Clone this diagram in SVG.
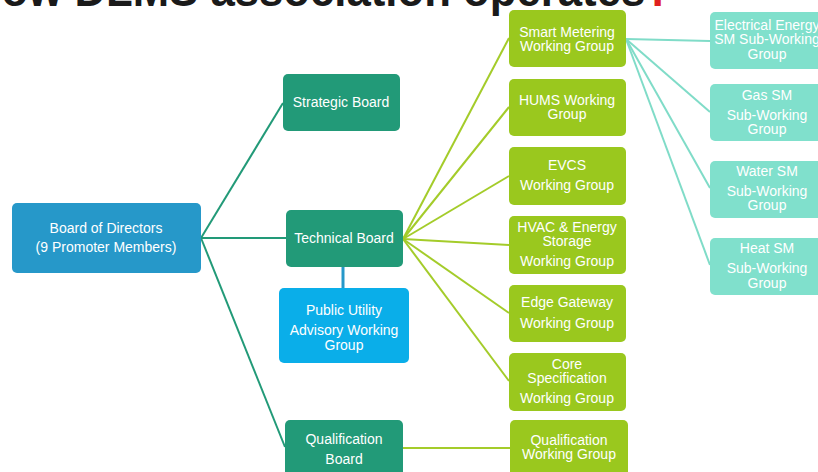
<svg xmlns="http://www.w3.org/2000/svg" width="818" height="472" viewBox="0 0 818 472">
<style>
text{font-family:"Liberation Sans",Arial,sans-serif;font-size:14px;fill:#ffffff;text-anchor:middle}
.title{font-size:46px;font-weight:bold;fill:#1a1a1a;text-anchor:start}
.bod{fill:#2698c9}
.board{fill:#229a78}
.pu{fill:#0aaee9}
.wg{fill:#9ac81e}
.swg{fill:#80e0cc}
.c1{stroke:#229a78;stroke-width:2;fill:none}
.c2{stroke:#a4cc2a;stroke-width:2;fill:none}
.c3{stroke:#80dcc8;stroke-width:2;fill:none}
.c4{stroke:#2698c9;stroke-width:3;fill:none}
</style>
<rect width="818" height="472" fill="#ffffff"/>
<text class="title" x="-30" y="6" textLength="702" lengthAdjust="spacingAndGlyphs">How DLMS association operates<tspan fill="#e02020">?</tspan></text>
<g id="connectors">
<line class="c1" x1="201" y1="238" x2="283" y2="103"/>
<line class="c1" x1="201" y1="238" x2="286" y2="238"/>
<line class="c1" x1="201" y1="238" x2="285" y2="447"/>
<line class="c4" x1="343" y1="252" x2="343" y2="289"/>
<line class="c2" x1="403" y1="239" x2="509" y2="38"/>
<line class="c2" x1="403" y1="239" x2="509" y2="107"/>
<line class="c2" x1="403" y1="239" x2="509" y2="176"/>
<line class="c2" x1="403" y1="239" x2="509" y2="245"/>
<line class="c2" x1="403" y1="239" x2="509" y2="313"/>
<line class="c2" x1="403" y1="239" x2="509" y2="381"/>
<line class="c2" x1="403" y1="448" x2="510" y2="448"/>
<line class="c3" x1="626" y1="39" x2="710" y2="41"/>
<line class="c3" x1="626" y1="39" x2="710" y2="112"/>
<line class="c3" x1="626" y1="39" x2="710" y2="188"/>
<line class="c3" x1="626" y1="39" x2="710" y2="265"/>
</g>
<g id="board-of-directors">
<rect class="bod" x="12" y="203" width="189" height="70" rx="5"/>
<text x="106" y="233">Board of Directors</text>
<text x="106" y="252">(9 Promoter Members)</text>
</g>
<g id="strategic-board">
<rect class="board" x="283" y="74" width="117" height="57" rx="5"/>
<text x="341" y="107">Strategic Board</text>
</g>
<g id="technical-board">
<rect class="board" x="286" y="210" width="117" height="57" rx="5"/>
<text x="344" y="243">Technical Board</text>
</g>
<g id="public-utility">
<rect class="pu" x="279" y="288" width="130" height="75" rx="5"/>
<text x="344" y="315">Public Utility</text>
<text x="344" y="335">Advisory Working</text>
<text x="344" y="350">Group</text>
</g>
<g id="qualification-board">
<rect class="board" x="285" y="420" width="118" height="60" rx="5"/>
<text x="344" y="444">Qualification</text>
<text x="344" y="464">Board</text>
</g>
<g id="smart-metering">
<rect class="wg" x="509" y="10" width="117" height="57" rx="5"/>
<text x="567" y="37">Smart Metering</text>
<text x="567" y="51">Working Group</text>
</g>
<g id="hums">
<rect class="wg" x="509" y="79" width="117" height="57" rx="5"/>
<text x="567" y="105">HUMS Working</text>
<text x="567" y="119">Group</text>
</g>
<g id="evcs">
<rect class="wg" x="509" y="147" width="117" height="58" rx="5"/>
<text x="567" y="170">EVCS</text>
<text x="567" y="190">Working Group</text>
</g>
<g id="hvac">
<rect class="wg" x="509" y="216" width="117" height="58" rx="5"/>
<text x="567" y="232">HVAC &amp; Energy</text>
<text x="567" y="246">Storage</text>
<text x="567" y="266">Working Group</text>
</g>
<g id="edge-gateway">
<rect class="wg" x="509" y="285" width="117" height="57" rx="5"/>
<text x="567" y="307">Edge Gateway</text>
<text x="567" y="328">Working Group</text>
</g>
<g id="core-spec">
<rect class="wg" x="509" y="353" width="117" height="58" rx="5"/>
<text x="567" y="369">Core</text>
<text x="567" y="383">Specification</text>
<text x="567" y="403">Working Group</text>
</g>
<g id="qualification-wg">
<rect class="wg" x="510" y="420" width="118" height="60" rx="5"/>
<text x="569" y="445">Qualification</text>
<text x="569" y="459">Working Group</text>
</g>
<g id="electrical-sm">
<rect class="swg" x="710" y="12" width="115" height="57" rx="5"/>
<text x="767" y="30">Electrical Energy</text>
<text x="767" y="44">SM Sub-Working</text>
<text x="767" y="59">Group</text>
</g>
<g id="gas-sm">
<rect class="swg" x="710" y="84" width="115" height="57" rx="5"/>
<text x="767" y="100">Gas SM</text>
<text x="767" y="120">Sub-Working</text>
<text x="767" y="134">Group</text>
</g>
<g id="water-sm">
<rect class="swg" x="710" y="161" width="115" height="57" rx="5"/>
<text x="767" y="176">Water SM</text>
<text x="767" y="196">Sub-Working</text>
<text x="767" y="210">Group</text>
</g>
<g id="heat-sm">
<rect class="swg" x="710" y="238" width="115" height="57" rx="5"/>
<text x="767" y="253">Heat SM</text>
<text x="767" y="273">Sub-Working</text>
<text x="767" y="288">Group</text>
</g>
</svg>
